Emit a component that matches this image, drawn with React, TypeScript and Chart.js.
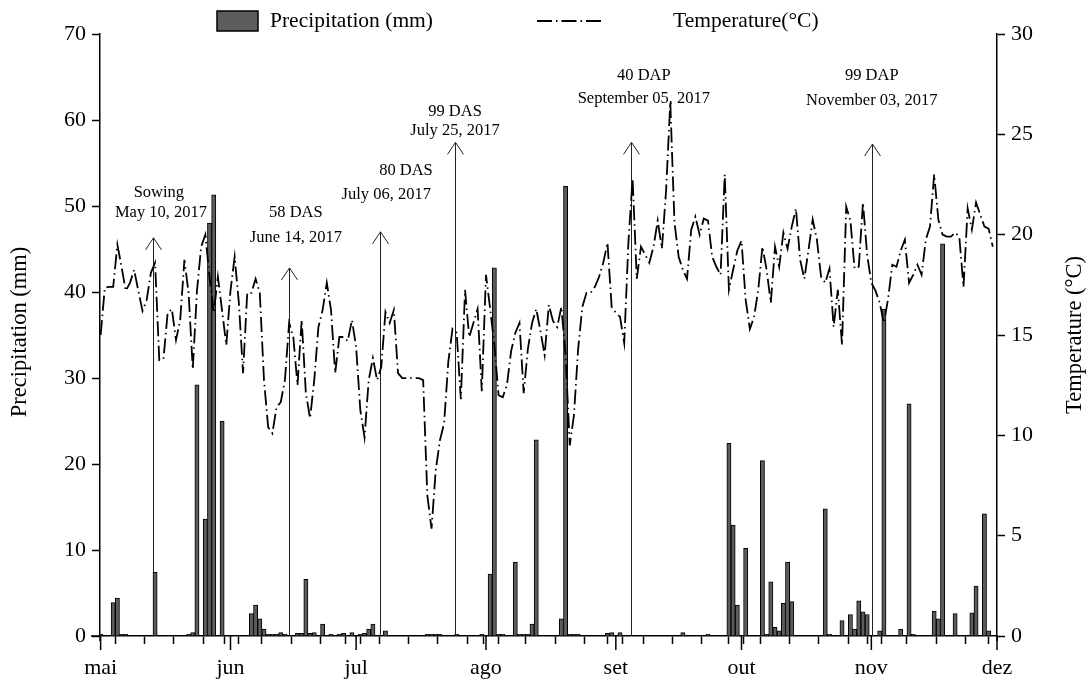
import React, { useEffect, useRef } from 'react';
import { Chart, registerables } from 'chart.js';

Chart.register(...registerables);

const FONT = '"Liberation Serif", "Times New Roman", serif';

// x axis: day index counted from 1 May 2017
const MONTH_LABELS = ['mai', 'jun', 'jul', 'ago', 'set', 'out', 'nov', 'dez'];
const MONTH_START_DAYS = [0, 31, 61, 92, 123, 153, 184, 214];
const WEEK_TICK_DAYS = [0, 7, 14, 21, 28, 35, 42, 49, 56, 63, 70, 77, 84, 91, 98, 105, 112, 119, 126, 133, 140, 147, 154, 161, 168, 175, 182, 189, 196, 203, 210];

// daily mean temperature (°C), 1 May .. 30 Nov 2017
const TEMPERATURE = [
  15.0, 17.35, 17.4, 17.4, 19.5, 18.4, 17.2, 17.6, 18.25, 17.2,
  16.2, 16.75, 18.1, 18.6, 13.75, 13.8, 16.1, 16.3, 14.75, 15.75,
  18.75, 17.1, 13.3, 17.2, 19.4, 20.0, 17.9, 16.1, 17.9, 16.2,
  14.5, 17.2, 18.9, 16.6, 13.1, 17.1, 17.1, 17.8, 17.1, 12.75,
  10.4, 10.1, 11.4, 11.65, 12.75, 15.6, 14.9, 12.5, 15.75, 12.1,
  10.85, 12.75, 15.4, 16.25, 17.6, 16.25, 13.1, 14.9, 14.9, 14.7,
  15.75, 14.4, 11.25, 9.9, 12.75, 13.85, 12.75, 13.4, 16.15, 15.6,
  16.25, 13.1, 12.85, 12.85, 12.85, 12.85, 12.85, 12.75, 7.0, 5.35,
  8.25, 9.75, 10.6, 13.65, 15.3, 15.1, 11.8, 17.25, 14.9, 15.6,
  16.3, 12.2, 18.0, 16.3, 14.5, 12.0, 11.9, 12.5, 14.2, 15.1,
  15.6, 12.1, 14.3, 15.6, 16.3, 15.2, 14.0, 16.5, 15.7, 15.4,
  16.4, 14.0, 9.5, 11.0, 14.3, 16.4, 17.1, 17.1, 17.4, 17.9,
  18.6, 19.6, 16.4, 16.1, 15.9, 14.6, 19.6, 22.8, 17.8, 19.4,
  19.0, 18.6, 19.4, 20.7, 19.3, 22.2, 26.6, 20.6, 18.9, 18.25,
  17.8, 20.25, 20.9, 20.0, 20.8, 20.7, 18.9, 18.4, 18.0, 23.0,
  17.25, 18.25, 19.2, 19.7, 16.75, 15.3, 15.9, 17.25, 19.4, 18.25,
  16.6, 19.4, 18.4, 20.1, 19.3, 20.4, 21.3, 18.75, 17.8, 19.25,
  20.75, 19.75, 17.9, 17.6, 18.3, 15.4, 17.25, 14.5, 21.4, 20.7,
  18.3, 18.4, 21.6, 19.0, 17.6, 17.2, 16.6, 15.6, 16.8, 18.5,
  18.4, 19.2, 19.75, 17.6, 18.0, 18.5, 18.0, 19.75, 20.4, 23.0,
  20.75, 20.0, 19.9, 19.9, 20.1, 19.9, 17.4, 21.3, 20.25, 21.6,
  21.0, 20.4, 20.3, 19.4,
];

// daily precipitation (mm)
const PRECIPITATION = [
  0.2, 0, 0, 3.9, 4.4, 0.2, 0.2, 0, 0, 0,
  0, 0, 0, 7.4, 0, 0, 0, 0, 0, 0,
  0, 0.2, 0.4, 29.2, 0, 13.6, 48.0, 51.3, 0, 25.0,
  0, 0, 0, 0, 0, 0, 2.6, 3.6, 2.0, 0.8,
  0.2, 0.2, 0.2, 0.4, 0.2, 0, 0, 0.3, 0.3, 6.6,
  0.3, 0.4, 0, 1.4, 0, 0.2, 0, 0.2, 0.3, 0,
  0.4, 0, 0.2, 0.3, 0.8, 1.4, 0, 0, 0.6, 0,
  0, 0, 0, 0, 0, 0, 0, 0, 0.2, 0.2,
  0.2, 0.2, 0, 0, 0, 0.2, 0, 0, 0, 0,
  0, 0.2, 0, 7.2, 42.8, 0.2, 0.2, 0, 0, 8.6,
  0.2, 0.2, 0.2, 1.4, 22.8, 0, 0, 0, 0, 0,
  2.0, 52.3, 0.2, 0.2, 0.2, 0, 0, 0, 0, 0,
  0, 0.3, 0.4, 0, 0.4, 0, 0, 0, 0, 0,
  0, 0, 0, 0, 0, 0, 0, 0, 0, 0.4,
  0, 0, 0, 0, 0, 0.2, 0, 0, 0, 0,
  22.4, 12.9, 3.6, 0, 10.2, 0, 0, 0, 20.4, 0.2,
  6.3, 1.0, 0.6, 3.8, 8.6, 4.0, 0, 0, 0, 0,
  0, 0, 0, 14.8, 0.2, 0, 0, 1.8, 0, 2.5,
  0.8, 4.1, 2.8, 2.5, 0, 0, 0.6, 38.0, 0, 0,
  0, 0.8, 0, 27.0, 0.2, 0, 0, 0, 0, 2.9,
  2.0, 45.6, 0, 0, 2.6, 0, 0, 0, 2.7, 5.8,
  0, 14.2, 0.6, 0,
];

// crop-stage markers (arrow day, arrow top in mm, two text lines)
const EVENT_DAYS = [12.4, 45.0, 66.7, 84.6, 126.6, 184.2];
const EVENT_TOPS = [46.3, 42.8, 47.0, 57.4, 57.4, 57.2];
const EVENT_LINE1 = ['Sowing', '58 DAS', '80 DAS', '99 DAS', '40 DAP', '99 DAP'];
const EVENT_LINE2 = ['May 10, 2017', 'June 14, 2017', 'July 06, 2017', 'July 25, 2017', 'September 05, 2017', 'November 03, 2017'];
const EVENT_LINE1_X = [13.9, 46.6, 72.9, 84.6, 129.7, 184.1];
const EVENT_LINE1_Y = [51.6, 49.2, 54.1, 61.0, 65.2, 65.1];
const EVENT_LINE2_X = [14.4, 46.6, 68.2, 84.6, 129.7, 184.1];
const EVENT_LINE2_Y = [49.2, 46.3, 51.3, 58.8, 62.5, 62.2];

const DAYS = TEMPERATURE.map((_, i) => i);
const X_TICK_DAYS = Array.from(new Set([...WEEK_TICK_DAYS, ...MONTH_START_DAYS])).sort((a, b) => a - b);

const DASH = [15, 4, 1.5, 4];

const overlayPlugin = {
  id: 'overlay',
  beforeDatasetsDraw(chart: any) {
    const { ctx, scales } = chart;
    const xs = scales.x;
    const ys = scales.y;
    ctx.save();
    ctx.strokeStyle = '#222';
    ctx.lineWidth = 1;
    EVENT_DAYS.forEach((d, i) => {
      const x = Math.round(xs.getPixelForValue(d)) + 0.5;
      const y0 = ys.getPixelForValue(0);
      const y1 = ys.getPixelForValue(EVENT_TOPS[i]);
      ctx.beginPath();
      ctx.moveTo(x, y0);
      ctx.lineTo(x, y1);
      ctx.stroke();
      ctx.beginPath();
      ctx.moveTo(x - 8, y1 + 12);
      ctx.lineTo(x, y1);
      ctx.lineTo(x + 8, y1 + 12);
      ctx.stroke();
    });
    ctx.restore();
  },
  afterDraw(chart: any) {
    const { ctx, scales, chartArea } = chart;
    const xs = scales.x;
    const ys = scales.y;
    ctx.save();
    // long month ticks
    ctx.strokeStyle = '#000';
    ctx.lineWidth = 1.5;
    MONTH_START_DAYS.forEach((d) => {
      const x = xs.getPixelForValue(d);
      ctx.beginPath();
      ctx.moveTo(x, chartArea.bottom);
      ctx.lineTo(x, chartArea.bottom + 14);
      ctx.stroke();
    });
    // axis extensions
    ctx.beginPath();
    ctx.moveTo(chartArea.left - 9, chartArea.bottom);
    ctx.lineTo(chartArea.left, chartArea.bottom);
    ctx.moveTo(chartArea.left, chartArea.bottom);
    ctx.lineTo(chartArea.left, chartArea.bottom + 5);
    ctx.moveTo(chartArea.right, chartArea.bottom);
    ctx.lineTo(chartArea.right, chartArea.bottom + 5);
    ctx.stroke();

    // event texts
    ctx.fillStyle = '#000';
    ctx.font = `16.5px ${FONT}`;
    ctx.textAlign = 'center';
    ctx.textBaseline = 'middle';
    EVENT_DAYS.forEach((_, i) => {
      ctx.fillText(EVENT_LINE1[i], xs.getPixelForValue(EVENT_LINE1_X[i]), ys.getPixelForValue(EVENT_LINE1_Y[i]));
      ctx.fillText(EVENT_LINE2[i], xs.getPixelForValue(EVENT_LINE2_X[i]), ys.getPixelForValue(EVENT_LINE2_Y[i]));
    });

    // axis titles
    ctx.font = `22.5px ${FONT}`;
    ctx.save();
    ctx.translate(20, 332);
    ctx.rotate(-Math.PI / 2);
    ctx.fillText('Precipitation (mm)', 0, 0);
    ctx.restore();
    ctx.save();
    ctx.translate(1075, 335);
    ctx.rotate(-Math.PI / 2);
    ctx.fillText('Temperature (°C)', 0, 0);
    ctx.restore();

    // legend
    ctx.fillStyle = '#5c5c5c';
    ctx.fillRect(217, 11, 41, 20);
    ctx.strokeStyle = '#000';
    ctx.lineWidth = 1.5;
    ctx.strokeRect(217, 11, 41, 20);
    ctx.fillStyle = '#000';
    ctx.textAlign = 'left';
    ctx.font = `21.5px ${FONT}`;
    ctx.fillText('Precipitation (mm)', 270, 21);
    ctx.fillText('Temperature(°C)', 673, 21);
    ctx.setLineDash(DASH);
    ctx.lineWidth = 1.8;
    ctx.beginPath();
    ctx.moveTo(537, 21);
    ctx.lineTo(602, 21);
    ctx.stroke();
    ctx.restore();
  },
};

export default function App() {
  const canvasRef = useRef<HTMLCanvasElement | null>(null);

  useEffect(() => {
    const canvas = canvasRef.current;
    if (!canvas) return;
    const tickFont = { family: FONT, size: 22 };
    const chart = new Chart(canvas, {
      type: 'bar',
      data: {
        datasets: [
          {
            type: 'line',
            label: 'Temperature(°C)',
            data: DAYS.map((d, i) => ({ x: d, y: TEMPERATURE[i] })),
            yAxisID: 'y1',
            borderColor: '#000',
            borderWidth: 1.8,
            borderDash: DASH,
            pointRadius: 0,
            tension: 0,
            order: 0,
          } as any,
          {
            type: 'bar',
            label: 'Precipitation (mm)',
            data: DAYS.map((d, i) => ({ x: d, y: PRECIPITATION[i] > 0 ? PRECIPITATION[i] : null })),
            yAxisID: 'y',
            backgroundColor: '#5c5c5c',
            borderColor: '#000',
            borderWidth: 1,
            barThickness: 4.2,
            order: 1,
          } as any,
        ],
      },
      options: {
        responsive: false,
        animation: false,
        layout: { padding: { top: 34, left: 0, right: 0, bottom: 0 } },
        plugins: { legend: { display: false }, tooltip: { enabled: false } },
        scales: {
          x: {
            type: 'linear',
            min: -0.15,
            max: 214,
            offset: false,
            afterBuildTicks: (s: any) => {
              s.ticks = X_TICK_DAYS.map((v) => ({ value: v }));
            },
            afterFit: (s: any) => {
              s.height = 46;
            },
            ticks: {
              autoSkip: false,
              maxRotation: 0,
              minRotation: 0,
              color: '#000',
              font: tickFont,
              padding: 11,
              callback: (v: any) => {
                const i = MONTH_START_DAYS.indexOf(Number(v));
                return i >= 0 ? MONTH_LABELS[i] : '';
              },
            },
            grid: { drawOnChartArea: false, tickLength: 8, color: '#000', tickWidth: 1.5 },
            border: { color: '#000', width: 1.5 },
          },
          y: {
            position: 'left',
            min: 0,
            max: 70,
            afterFit: (s: any) => {
              s.width = 100;
            },
            ticks: { stepSize: 10, color: '#000', font: tickFont, padding: 6 },
            grid: { drawOnChartArea: false, tickLength: 8, color: '#000', tickWidth: 1.5 },
            border: { color: '#000', width: 1.5 },
          },
          y1: {
            position: 'right',
            min: 0,
            max: 30,
            afterFit: (s: any) => {
              s.width = 95;
            },
            ticks: { stepSize: 5, color: '#000', font: tickFont, padding: 6 },
            grid: { drawOnChartArea: false, tickLength: 8, color: '#000', tickWidth: 1.5 },
            border: { color: '#000', width: 1.5 },
          },
        },
      } as any,
      plugins: [overlayPlugin],
    });
    return () => chart.destroy();
  }, []);

  return (
    <div style={{ position: 'absolute', left: 0, top: 0, width: 1092, height: 682, background: '#fff' }}>
      <canvas ref={canvasRef} width={1092} height={682} style={{ display: 'block' }} />
    </div>
  );
}
